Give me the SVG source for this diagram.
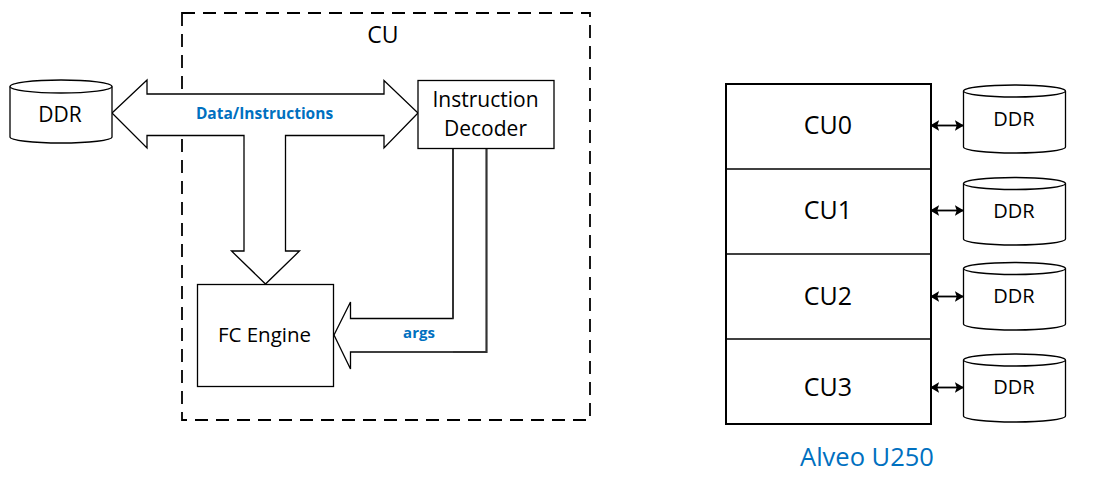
<svg xmlns="http://www.w3.org/2000/svg" width="1100" height="481" viewBox="0 0 1100 481">
<style>
.ln{fill:none;stroke:#000;stroke-width:1.3}
.box{fill:#fff;stroke:#000;stroke-width:1.3}
.bx2{fill:#fff;stroke:#000;stroke-width:2}
.t{font-family:"Open Sans","Liberation Sans",sans-serif;fill:#000;text-anchor:middle}
.b{font-family:"Open Sans","Liberation Sans",sans-serif;fill:#0070C0;text-anchor:middle;font-weight:bold}
.dbl{fill:none;stroke:#000;stroke-width:1.8;marker-start:url(#ah);marker-end:url(#ah)}
</style>
<defs>
<marker id="ah" viewBox="0 0 10 12" refX="9" refY="6" markerWidth="9" markerHeight="12" markerUnits="userSpaceOnUse" orient="auto-start-reverse">
<path d="M0,0 L10,6 L0,12 L2,6 Z" fill="#000"/>
</marker>
</defs>
<rect width="1100" height="481" fill="#fff"/>

<g id="cu-boundary">
<rect x="182" y="13" width="408" height="407" fill="none" stroke="#000" stroke-width="1.8" stroke-dasharray="13 8"/>
<text class="t" x="383" y="43" font-size="23">CU</text>
</g>

<g id="connectors">
<path id="data-arrow" class="box" d="M112,113 L147,80 L147,94 L384,94 L384,80.5 L418,113 L384,148 L384,135.5 L285.5,135.5 L285.5,251 L299.5,251 L265.5,284 L231.5,251 L244,251 L244,135.5 L147,135.5 L147,148 Z"/>
<text class="b" x="264.5" y="119" font-size="15.5">Data/Instructions</text>
<path id="args-arrow" class="box" d="M334,335 L350.5,302 L350.5,318.5 L453,318.5 L453,148 L486.5,148 L486.5,352 L350.5,352 L350.5,369 Z"/>
<path d="M453,148 L453,318.5 M486.5,148 L486.5,352 L453,352" fill="none" stroke="#333" stroke-width="2"/>
<text class="b" x="419" y="338" font-size="15">args</text>
<line class="dbl" x1="931" y1="125.5" x2="963" y2="125.5"/>
<line class="dbl" x1="931" y1="210.5" x2="963" y2="210.5"/>
<line class="dbl" x1="931" y1="296.5" x2="963" y2="296.5"/>
<line class="dbl" x1="931" y1="387.5" x2="963" y2="387.5"/>
</g>

<g id="ddr-left">
<path class="box" d="M10,86.5 L10,137 A51,6 0 0 0 112,137 L112,86.5"/>
<ellipse class="box" cx="61" cy="86.5" rx="51" ry="6.5"/>
<text class="t" x="60" y="122" font-size="21">DDR</text>
</g>

<g id="instruction-decoder">
<rect class="box" x="418" y="80.5" width="136" height="68"/>
<text class="t" x="485.5" y="107" font-size="21">Instruction</text>
<text class="t" x="485.5" y="136" font-size="21">Decoder</text>
</g>

<g id="fc-engine">
<rect class="box" x="197.5" y="284.5" width="136" height="102"/>
<text class="t" x="264.5" y="342" font-size="20.5">FC Engine</text>
</g>

<g id="alveo">
<rect class="bx2" x="726" y="84" width="205" height="340"/>
<line class="ln" x1="726" y1="169" x2="931" y2="169" stroke-width="2"/>
<line class="ln" x1="726" y1="254" x2="931" y2="254" stroke-width="2"/>
<line class="ln" x1="726" y1="339" x2="931" y2="339" stroke-width="2"/>
<text class="t" x="828" y="134" font-size="25">CU0</text>
<text class="t" x="828" y="219" font-size="25">CU1</text>
<text class="t" x="828" y="305" font-size="25">CU2</text>
<text class="t" x="828" y="396" font-size="25">CU3</text>
<text x="867" y="466" font-size="25.5" font-family="'Open Sans','Liberation Sans',sans-serif" fill="#0070C0" text-anchor="middle">Alveo U250</text>
</g>

<g id="ddr-0">
<path class="box" d="M963.5,91 L963.5,147 A51,6 0 0 0 1065.5,147 L1065.5,91"/>
<ellipse class="box" cx="1014.5" cy="91" rx="51" ry="6"/>
<text class="t" x="1014" y="126" font-size="20">DDR</text>
</g>
<g id="ddr-1">
<path class="box" d="M963.5,183.5 L963.5,239 A51,6 0 0 0 1065.5,239 L1065.5,183.5"/>
<ellipse class="box" cx="1014.5" cy="183.5" rx="51" ry="6"/>
<text class="t" x="1014" y="218" font-size="20">DDR</text>
</g>
<g id="ddr-2">
<path class="box" d="M963.5,268.5 L963.5,324 A51,6 0 0 0 1065.5,324 L1065.5,268.5"/>
<ellipse class="box" cx="1014.5" cy="268.5" rx="51" ry="6"/>
<text class="t" x="1014" y="303" font-size="20">DDR</text>
</g>
<g id="ddr-3">
<path class="box" d="M963.5,360 L963.5,416 A51,6 0 0 0 1065.5,416 L1065.5,360"/>
<ellipse class="box" cx="1014.5" cy="360" rx="51" ry="6"/>
<text class="t" x="1014" y="394" font-size="20">DDR</text>
</g>
</svg>
